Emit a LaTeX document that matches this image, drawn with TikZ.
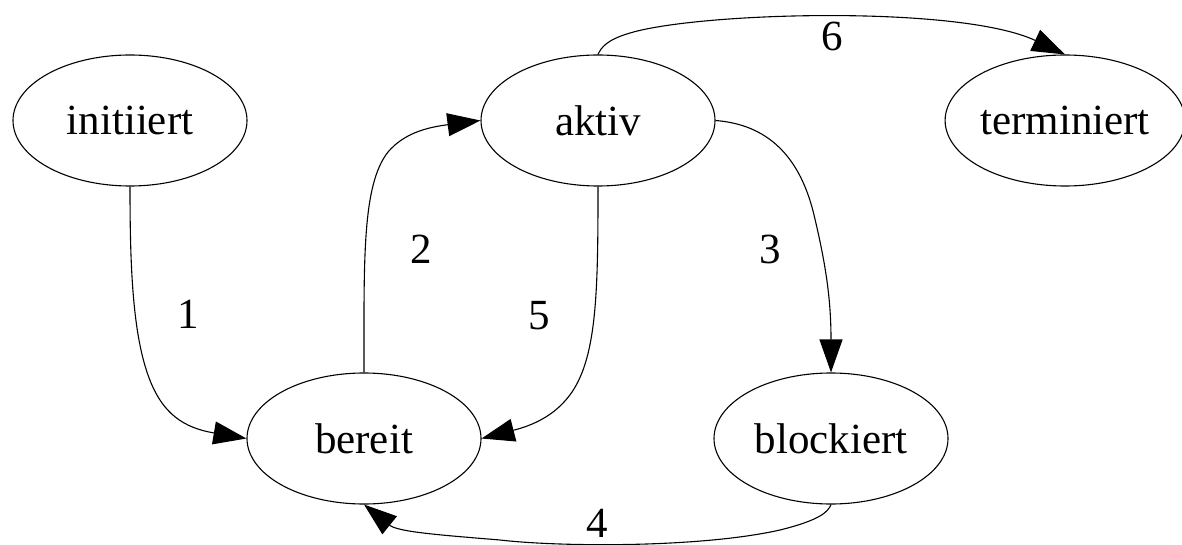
\documentclass[tikz,border=0pt]{standalone}
\usepackage{fontspec}
\setmainfont{Liberation Serif}
\usetikzlibrary{arrows.meta,shapes.geometric}
\begin{document}
\begin{tikzpicture}[x=1pt,y=-1pt,
  state/.style={draw,ellipse,line width=1.1pt,minimum width=234pt,minimum height=131pt,inner sep=0pt,font=\fontsize{43}{50}\selectfont},
  edge/.style={draw,line width=1.1pt,-{Triangle[length=33pt,width=23pt]}},
  lbl/.style={inner sep=0pt,font=\fontsize{43}{50}\selectfont}]
\useasboundingbox (0,0) rectangle (1182,545);
\node[state] (initiiert) at (130,120.5) {initiiert};
\node[state] (aktiv) at (598,120.5) {aktiv};
\node[state] (terminiert) at (1065,120.5) {terminiert};
\node[state] (bereit) at (364,438.5) {bereit};
\node[state] (blockiert) at (831,438.5) {blockiert};
% 1
\draw[edge] (initiiert.south) .. controls (130,260) and (132,330) .. (148,375) .. controls (162,415) and (185,428) .. (bereit.west);
\node[lbl] (l1) at (188,314) {1};
% 2
\draw[edge] (bereit.north) .. controls (364,260) and (362,185) .. (388,152) .. controls (405,132) and (430,127) .. (aktiv.west);
\node[lbl] (l2) at (421,249) {2};
% 5
\draw[edge] (aktiv.south) .. controls (598,290) and (597,355) .. (572,392) .. controls (555,417) and (530,426) .. (bereit.east);
\node[lbl] (l5) at (539,316) {5};
% 3
\draw[edge] (aktiv.east) .. controls (760,124) and (798,148) .. (814,215) .. controls (826,265) and (831,300) .. (blockiert.north);
\node[lbl] (l3) at (770,249) {3};
% 6
\draw[edge] (aktiv.north) .. controls (601,48) and (606,40) .. (630,33) .. controls (700,12) and (960,5) .. (terminiert.north);
\node[lbl] (l6) at (832,36) {6};
% 4
\draw[edge] (blockiert.south) .. controls (828,512) and (820,520) .. (780,530) .. controls (700,548) and (560,547) .. (500,540) .. controls (440,535) and (398,532) .. (bereit.south);
\node[lbl] (l4) at (597,523) {4};
\end{tikzpicture}
\end{document}
